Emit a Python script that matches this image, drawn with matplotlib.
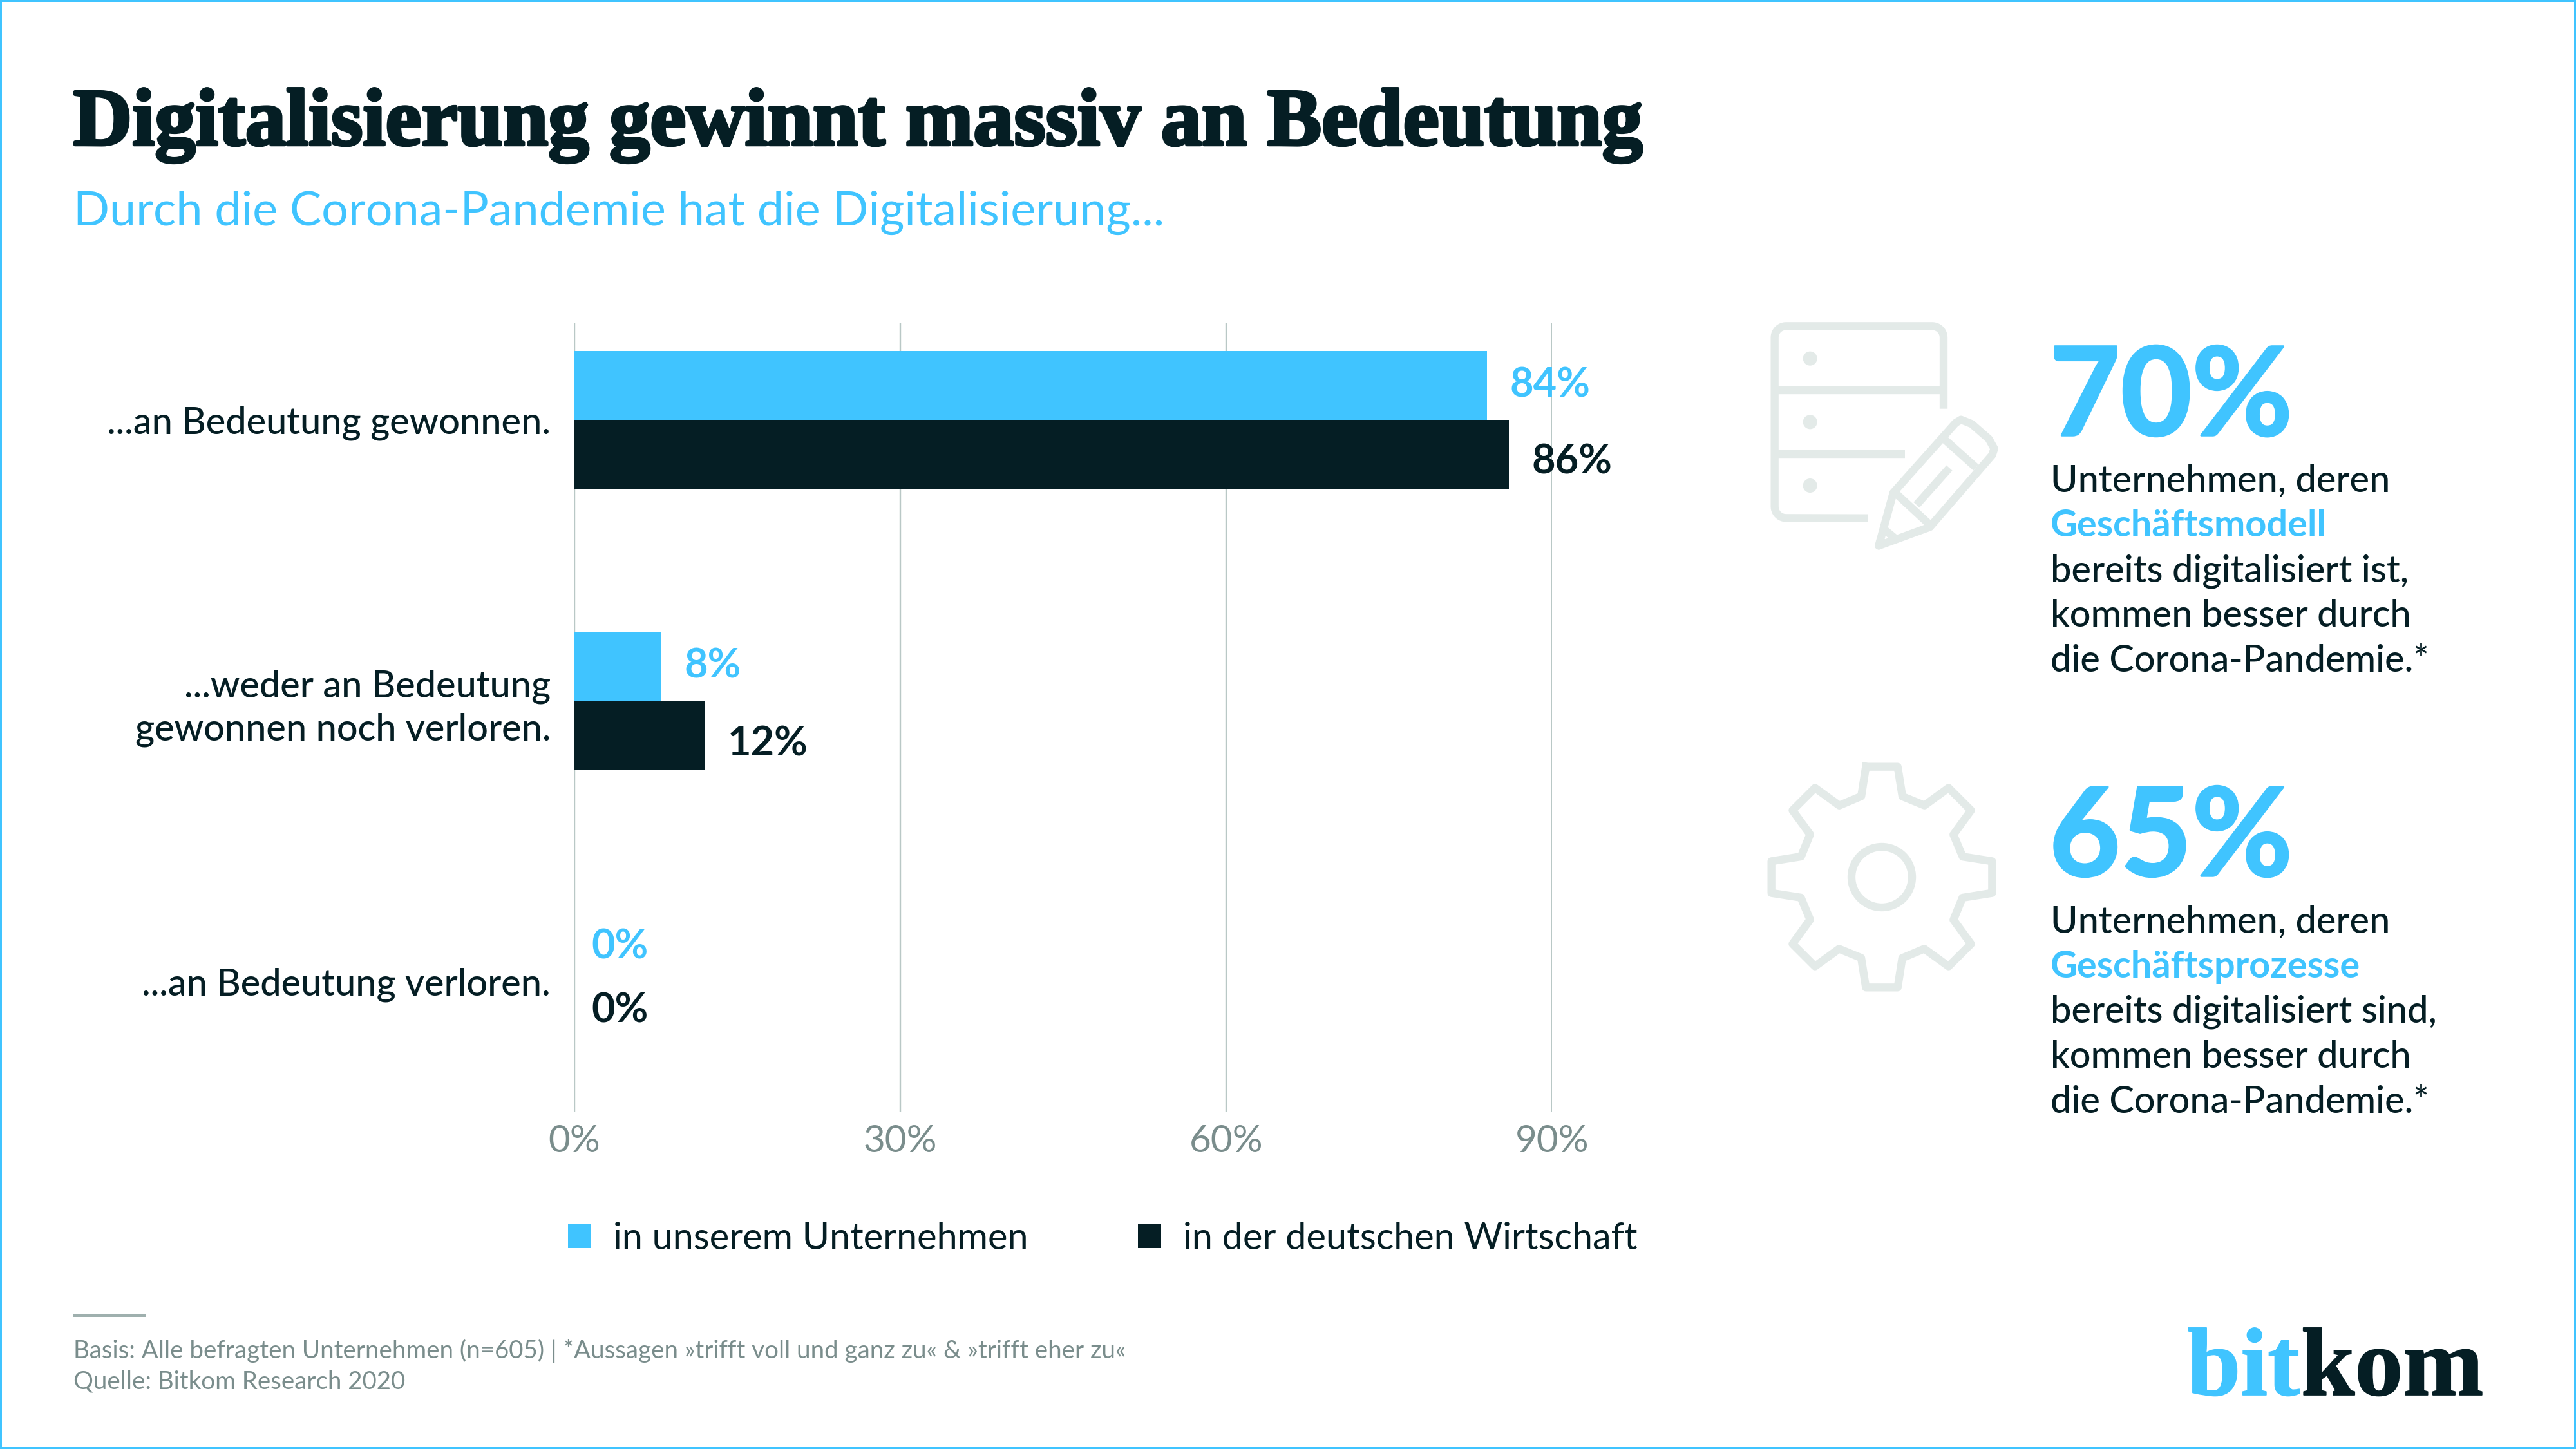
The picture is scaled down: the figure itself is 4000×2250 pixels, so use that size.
import numpy as np
import matplotlib
matplotlib.use('Agg')
import matplotlib.pyplot as plt
import matplotlib.patheffects as pe
from matplotlib.patches import Circle, Rectangle

BLUE = '#40c4ff'
DARK = '#051e24'
GREY = '#7a8d8c'
GRID = '#b9c8c6'
ICON = '#e3eae8'

title = 'Digitalisierung gewinnt massiv an Bedeutung'
subtitle = 'Durch die Corona-Pandemie hat die Digitalisierung...'
categories = ['...an Bedeutung gewonnen.', '...weder an Bedeutung\ngewonnen noch verloren.', '...an Bedeutung verloren.']
company = [84, 8, 0]
economy = [86, 12, 0]
x_ticks = [0, 30, 60, 90]
x_labels = ['0%', '30%', '60%', '90%']
legend_labels = ['in unserem Unternehmen', 'in der deutschen Wirtschaft']
stat_values = ['70%', '65%']
stat_lines = [
    ['Unternehmen, deren', 'Geschäftsmodell', 'bereits digitalisiert ist,', 'kommen besser durch', 'die Corona-Pandemie.*'],
    ['Unternehmen, deren', 'Geschäftsprozesse', 'bereits digitalisiert sind,', 'kommen besser durch', 'die Corona-Pandemie.*'],
]
footer = ['Basis: Alle befragten Unternehmen (n=605) | *Aussagen »trifft voll und ganz zu« & »trifft eher zu«',
          'Quelle: Bitkom Research 2020']

plt.rcParams['font.family'] = ['Lato', 'DejaVu Sans']

W, H = 4000, 2250
fig = plt.figure(figsize=(16, 9), dpi=250, facecolor='white')
PX = 72 / 250

# overlay in reference pixels, for everything that is not the chart
bg = fig.add_axes([0, 0, 1, 1])
bg.set_xlim(0, W)
bg.set_ylim(H, 0)
bg.axis('off')

bg.add_patch(Rectangle((0, 0), W, H, fill=False, ec=BLUE, lw=6 * PX))

slab = dict(family='Liberation Serif', weight='bold')
bg.text(114, 225, title, fontsize=36.4, color=DARK, va='baseline',
        path_effects=[pe.withStroke(linewidth=1.3, foreground=DARK)], **slab)
bg.text(114, 350, subtitle, fontsize=21.2, color=BLUE, va='baseline')

# chart
left, right, top, bottom = 892, 2410, 501, 1726
group_px = 436
ax = fig.add_axes([left / W, 1 - bottom / H, (right - left) / W, (bottom - top) / H])
ax.set_xlim(0, 90)
ax.set_ylim((bottom - 652) / group_px, (top - 652) / group_px)
ax.patch.set_alpha(0)
for s in ax.spines.values():
    s.set_visible(False)

y = np.arange(len(categories))
h = 107 / group_px
ax.set_axisbelow(True)
ax.grid(axis='x', color=GRID, lw=2.4 * PX)
ax.barh(y - h / 2, company, height=h, color=BLUE, label=legend_labels[0])
ax.barh(y + h / 2, economy, height=h, color=DARK, label=legend_labels[1])

ax.set_xticks(x_ticks)
ax.set_xticklabels(x_labels, fontsize=16.8, color=GREY)
ax.set_yticks(y)
ax.set_yticklabels(categories, fontsize=16.6, color=DARK, weight='medium', linespacing=1.3, ha='right')
ax.tick_params(axis='both', length=0)
ax.tick_params(axis='x', pad=20 * PX)
ax.tick_params(axis='y', pad=37 * PX)

# value labels sit a little off the bar centres in the reference
label_shift_px = {'company': [0, 0, 0], 'economy': [-12, -14, 8]}
for vals, yy, col, shift in [(company, y - h / 2, BLUE, label_shift_px['company']),
                             (economy, y + h / 2, DARK, label_shift_px['economy'])]:
    for v, yp, sh in zip(vals, yy, shift):
        pad = 26 if v == 0 else 36
        ax.annotate(f'{v}%', (v, yp), xytext=(pad * PX, sh * PX), textcoords='offset points',
                    fontsize=18.2, fontweight='bold', color=col, va='center', ha='left')

# legend
handles, labels = ax.get_legend_handles_labels()
fig.legend(handles, labels, loc='lower left', bbox_to_anchor=(882 / W, 1 - 1950 / H), ncol=2, frameon=False,
           fontsize=16.6, labelcolor=DARK, handlelength=0.62, handleheight=0.62, handletextpad=0.6,
           columnspacing=2.95, borderpad=0, borderaxespad=0)

# right side stats
for value, lines, base, first in zip(stat_values, stat_lines, [676, 1360], [765, 1450]):
    bg.text(3182, base, value, fontsize=55, fontweight='bold', color=BLUE, va='baseline',
            path_effects=[pe.withStroke(linewidth=1.0, foreground=BLUE)])
    for i, line in enumerate(lines):
        is_key = i == 1
        bg.text(3184, first - 2 + i * 70, line, fontsize=16.6, va='baseline',
                color=BLUE if is_key else DARK, fontweight='bold' if is_key else 'medium')

# database + pencil icon, drawn in zoom coordinates of the reference
def icon_xy(pts):
    pts = np.asarray(pts, float)
    return 2720 + pts[:, 0] / 3, 470 + pts[:, 1] / 3

def icon_line(pts, lw=12.3, cap='butt'):
    xs, ys = icon_xy(pts)
    bg.plot(xs, ys, color=ICON, lw=lw * PX, solid_capstyle=cap, solid_joinstyle='round')

def corner(cx, cy, r, a0, a1):
    t = np.radians(np.linspace(a0, a1, 12))
    return np.c_[cx + r * np.cos(t), cy + r * np.sin(t)]

outline = np.vstack([[[541, 1004]], corner(160, 950, 53, 90, 180), corner(160, 162, 53, 180, 270),
                     corner(841, 162, 53, 270, 360), [[894, 494]]])
icon_line(outline)
icon_line([[107, 407], [894, 407]])
icon_line([[107, 704], [714, 704]])
for cy in [260, 556, 852]:
    xs, ys = icon_xy([[272, cy]])
    bg.add_patch(Circle((xs[0], ys[0]), 11, color=ICON, lw=0))

pencil = [[592, 1132], [660, 885], [950, 560], [975, 545], [1025, 565], [1105, 635], [1130, 680],
          [1120, 710], [830, 1045], [592, 1132]]
icon_line(pencil, cap='round')
icon_line([[902, 640], [1045, 768]])
icon_line([[668, 885], [825, 1030]])
icon_line([[921, 770], [768, 942]])
icon_line([[622, 1060], [668, 1098]])

# gear, one tooth rotated around the hub
cx, cy = 2922, 1362
tooth = np.array([[-74, -514], [74, -514], [96, -376], [199, -334]], float) / 3
gear = []
for k in range(8):
    a = np.radians(45 * k)
    rot = np.array([[np.cos(a), -np.sin(a)], [np.sin(a), np.cos(a)]])
    gear.append(tooth @ rot.T)
gear = np.vstack(gear + [gear[0][:1]])
bg.plot(cx + gear[:, 0], cy + gear[:, 1], color=ICON, lw=12.3 * PX, solid_joinstyle='round')
bg.add_patch(Circle((cx, cy), 47, fill=False, ec=ICON, lw=12.3 * PX))

# footer
bg.plot([113, 226], [2043, 2043], color='#9fb0ae', lw=4 * PX, solid_capstyle='butt')
bg.text(114, 2109, footer[0], fontsize=11.1, color=GREY, va='baseline')
bg.text(114, 2157, footer[1], fontsize=11.1, color=GREY, va='baseline')

# logo
bg.text(3396, 2166, 'bit', fontsize=43.2, color=BLUE, va='baseline',
        path_effects=[pe.withStroke(linewidth=0.5, foreground=BLUE)], **slab)
bg.text(3573, 2166, 'kom', fontsize=43.2, color=DARK, va='baseline',
        path_effects=[pe.withStroke(linewidth=0.5, foreground=DARK)], **slab)

fig.savefig('out.png', dpi=250)
